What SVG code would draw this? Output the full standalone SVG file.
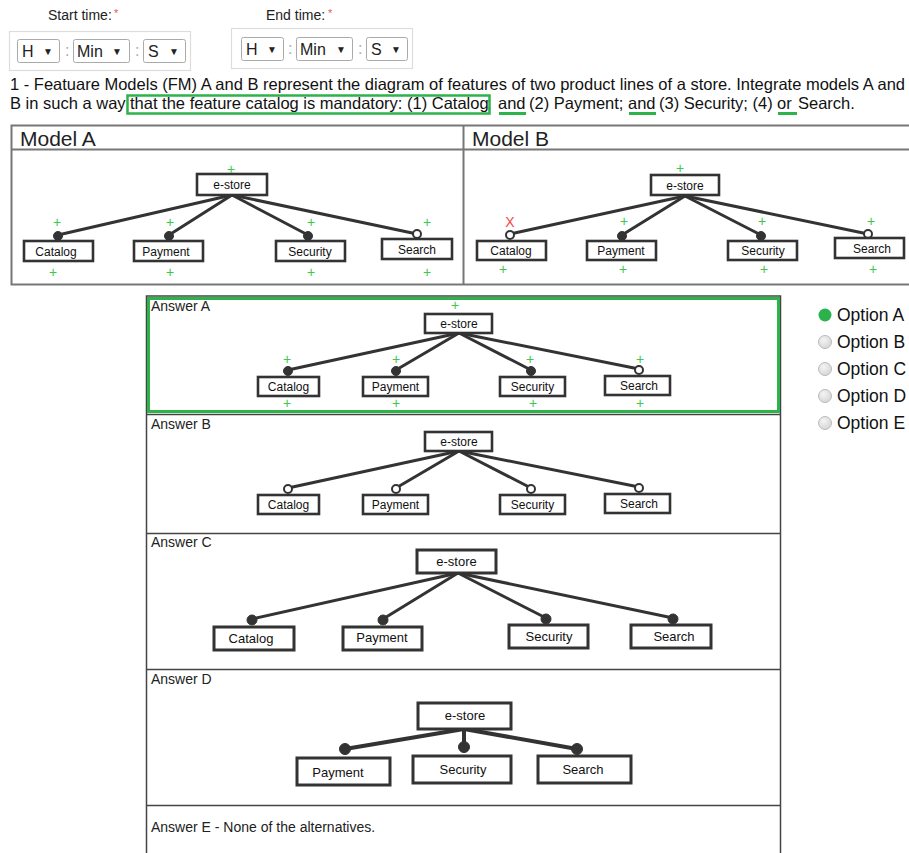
<svg xmlns="http://www.w3.org/2000/svg" width="909" height="853" viewBox="0 0 909 853">
<style>
text{font-family:"Liberation Sans",Arial,sans-serif;fill:#222}
.sel{fill:#fff;stroke:#aaa;stroke-width:1}
.cont{fill:#fff;stroke:#ddd;stroke-width:1.2}
.st{font-size:16px;fill:#222}
.arr{font-size:10px;fill:#222}
.colon{font-size:16px;fill:#aaa}
.q{font-size:16.5px;fill:#111}
.tbl{fill:none;stroke:#777;stroke-width:2}
.ans{fill:none;stroke:#444;stroke-width:1.5}
.box{fill:#fff;stroke:#333;stroke-width:2.6}
.boxL{fill:#fff;stroke:#333;stroke-width:3}
.lbl{font-size:12px;text-anchor:middle;fill:#111}
.lblL{font-size:13px;text-anchor:middle;fill:#111}
.plus{font-size:14px;text-anchor:middle;fill:#3cc84a}
.edge{stroke:#333;stroke-width:3;stroke-linecap:round;fill:none}
.edgeL{stroke:#333;stroke-width:4;stroke-linecap:round;fill:none}
.man{fill:#333;stroke:#333;stroke-width:1}
.opt{fill:#fff;stroke:#333;stroke-width:2}
.opttxt{font-size:17.5px;fill:#111}
</style>
<defs>
<radialGradient id="rg" cx="0.4" cy="0.35" r="0.7">
<stop offset="0" stop-color="#f4f4f4"/><stop offset="1" stop-color="#d4d4d4"/>
</radialGradient>
</defs>
<rect width="909" height="853" fill="#fff"/>

<!-- time pickers -->
<g id="start-time">
<text x="48" y="19.5" font-size="14">Start time:</text>
<text x="114" y="17" font-size="11" style="fill:#e55">*</text>
<rect class="cont" x="9.5" y="31.5" width="181" height="39"/>
<rect class="sel" x="17.5" y="39.5" width="42" height="23" rx="2"/>
<text class="st" x="22" y="56.5">H</text><text class="arr" x="43" y="55">▼</text>
<text class="colon" x="65" y="56">:</text>
<rect class="sel" x="73.5" y="39.5" width="56" height="23" rx="2"/>
<text class="st" x="77" y="56.5">Min</text><text class="arr" x="112" y="55">▼</text>
<text class="colon" x="135" y="56">:</text>
<rect class="sel" x="143.5" y="39.5" width="42" height="23" rx="2"/>
<text class="st" x="148" y="56.5">S</text><text class="arr" x="169" y="55">▼</text>
</g>
<g id="end-time">
<text x="266" y="19.5" font-size="14">End time:</text>
<text x="328" y="17" font-size="11" style="fill:#e55">*</text>
<rect class="cont" x="231.5" y="28.5" width="181" height="40"/>
<rect class="sel" x="241.5" y="37.5" width="42" height="23" rx="2"/>
<text class="st" x="246" y="54.5">H</text><text class="arr" x="267" y="53">▼</text>
<text class="colon" x="288" y="54">:</text>
<rect class="sel" x="296.5" y="37.5" width="56" height="23" rx="2"/>
<text class="st" x="300" y="54.5">Min</text><text class="arr" x="336" y="53">▼</text>
<text class="colon" x="358" y="54">:</text>
<rect class="sel" x="366.5" y="37.5" width="41" height="23" rx="2"/>
<text class="st" x="371" y="54.5">S</text><text class="arr" x="391" y="53">▼</text>
</g>

<!-- question -->
<g id="question">
<text class="q" x="10" y="90" textLength="895" lengthAdjust="spacingAndGlyphs">1 - Featuare Models (FM) A and B represent the diagram of features of two product lines of a store. Integrate models A and</text>
<text class="q" y="109"><tspan x="10">B in such a way</tspan><tspan x="130">that the feature catalog is mandatory: (1) Catalog</tspan><tspan x="487">;</tspan><tspan x="498">and</tspan><tspan x="529">(2) Payment;</tspan><tspan x="628">and</tspan><tspan x="659">(3) Security; (4)</tspan><tspan x="777">or</tspan><tspan x="798">Search.</tspan></text>
<rect x="127.5" y="95.5" width="362" height="18" fill="none" stroke="#2db34a" stroke-width="2.5"/>
<g stroke="#2db34a" stroke-width="3">
<line x1="499" y1="113.5" x2="526" y2="113.5"/>
<line x1="629" y1="113.5" x2="656" y2="113.5"/>
<line x1="778" y1="113.5" x2="797" y2="113.5"/>
</g>
</g>

<!-- models table -->
<g id="models-table">
<rect class="tbl" x="11.5" y="125.5" width="900" height="159"/>
<line class="tbl" x1="11.5" y1="149.5" x2="909" y2="149.5"/>
<line class="tbl" x1="463.5" y1="125.5" x2="463.5" y2="284.5"/>
<text x="20" y="146" font-size="21">Model  A</text>
<text x="472" y="146" font-size="21">Model  B</text>
</g>

<!-- Model A -->
<g id="modelA">
<g class="connectors">
<line class="edge" x1="232" y1="195" x2="58" y2="235"/>
<line class="edge" x1="232" y1="195" x2="169" y2="235"/>
<line class="edge" x1="232" y1="195" x2="308" y2="235"/>
<line class="edge" x1="232" y1="195" x2="417" y2="234"/>
<circle class="man" cx="58" cy="236" r="4.5"/>
<circle class="man" cx="169" cy="236" r="4.5"/>
<circle class="man" cx="308" cy="236" r="4.5"/>
<circle class="opt" cx="417" cy="234" r="4"/>
</g>
<g id="A-estore"><rect class="box" x="197" y="174" width="70" height="21"/><text class="lbl" x="232" y="189">e-store</text><text class="plus" x="231" y="174">+</text></g>
<g id="A-catalog"><rect class="box" x="24" y="241" width="69" height="20"/><text class="lbl" x="56" y="255.5">Catalog</text><text class="plus" x="57" y="227">+</text><text class="plus" x="53" y="277">+</text></g>
<g id="A-payment"><rect class="box" x="134" y="241" width="69" height="20"/><text class="lbl" x="166" y="255.5">Payment</text><text class="plus" x="170" y="227">+</text><text class="plus" x="170" y="277">+</text></g>
<g id="A-security"><rect class="box" x="276" y="241" width="69" height="20"/><text class="lbl" x="310" y="255.5">Security</text><text class="plus" x="311" y="227">+</text><text class="plus" x="311" y="277">+</text></g>
<g id="A-search"><rect class="box" x="382" y="239" width="70" height="20"/><text class="lbl" x="417" y="253.5">Search</text><text class="plus" x="427" y="227">+</text><text class="plus" x="427" y="277">+</text></g>
</g>

<!-- Model B -->
<g id="modelB">
<g class="connectors">
<line class="edge" x1="685" y1="196" x2="510" y2="234"/>
<line class="edge" x1="685" y1="196" x2="622" y2="235"/>
<line class="edge" x1="685" y1="196" x2="761" y2="235"/>
<line class="edge" x1="685" y1="196" x2="868" y2="234"/>
<circle class="opt" cx="510" cy="235" r="4"/>
<circle class="man" cx="622" cy="236" r="4.5"/>
<circle class="man" cx="761" cy="236" r="4.5"/>
<circle class="opt" cx="868" cy="234" r="4"/>
</g>
<g id="B-estore"><rect class="box" x="651" y="175" width="68" height="20"/><text class="lbl" x="685" y="189.5">e-store</text><text class="plus" x="680" y="173">+</text></g>
<g id="B-catalog"><rect class="box" x="477" y="241" width="69" height="19"/><text class="lbl" x="511" y="255">Catalog</text><text x="510" y="227" font-size="14" text-anchor="middle" style="fill:#f04848">X</text><text class="plus" x="503" y="274">+</text></g>
<g id="B-payment"><rect class="box" x="587" y="241" width="69" height="19"/><text class="lbl" x="621" y="255">Payment</text><text class="plus" x="624" y="226">+</text><text class="plus" x="623" y="274">+</text></g>
<g id="B-security"><rect class="box" x="728" y="241" width="69" height="19"/><text class="lbl" x="763" y="255">Security</text><text class="plus" x="762" y="226">+</text><text class="plus" x="764" y="274">+</text></g>
<g id="B-search"><rect class="box" x="835" y="238" width="69" height="20"/><text class="lbl" x="872" y="252.5">Search</text><text class="plus" x="871" y="226">+</text><text class="plus" x="873" y="274">+</text></g>
</g>

<!-- answers table -->
<g id="answers-table">
<rect class="ans" x="146.5" y="296" width="634" height="560"/>
<line class="ans" x1="146.5" y1="414.5" x2="780.5" y2="414.5"/>
<line class="ans" x1="146.5" y1="533.5" x2="780.5" y2="533.5"/>
<line class="ans" x1="146.5" y1="669.5" x2="780.5" y2="669.5"/>
<line class="ans" x1="146.5" y1="805.5" x2="780.5" y2="805.5"/>
<rect x="148.5" y="298.5" width="630" height="113" fill="none" stroke="#2db34a" stroke-width="3"/>
<text x="151" y="311" font-size="14">Answer A</text>
<text x="151" y="429" font-size="14">Answer B</text>
<text x="151" y="547" font-size="14">Answer C</text>
<text x="151" y="684" font-size="14">Answer D</text>
<text x="151" y="832" font-size="14">Answer E - None of the alternatives.</text>
</g>

<!-- Answer A -->
<g id="answerA">
<g class="connectors">
<line class="edge" x1="459" y1="333" x2="288" y2="370"/>
<line class="edge" x1="459" y1="333" x2="396" y2="370"/>
<line class="edge" x1="459" y1="333" x2="531" y2="370"/>
<line class="edge" x1="459" y1="333" x2="639" y2="369"/>
<circle class="man" cx="288" cy="371" r="4.5"/>
<circle class="man" cx="396" cy="371" r="4.5"/>
<circle class="man" cx="531" cy="371" r="4.5"/>
<circle class="opt" cx="639" cy="370" r="4"/>
</g>
<g id="AA-estore"><rect class="box" x="425" y="314" width="67" height="19"/><text class="lbl" x="459" y="328">e-store</text><text class="plus" x="455" y="310">+</text></g>
<g id="AA-catalog"><rect class="box" x="258" y="377" width="61" height="19"/><text class="lbl" x="288.5" y="391">Catalog</text><text class="plus" x="287" y="364">+</text><text class="plus" x="287" y="408">+</text></g>
<g id="AA-payment"><rect class="box" x="363" y="377" width="65" height="19"/><text class="lbl" x="395.5" y="391">Payment</text><text class="plus" x="396" y="364">+</text><text class="plus" x="396" y="408">+</text></g>
<g id="AA-security"><rect class="box" x="500" y="377" width="65" height="19"/><text class="lbl" x="532.5" y="391">Security</text><text class="plus" x="530" y="364">+</text><text class="plus" x="533" y="408">+</text></g>
<g id="AA-search"><rect class="box" x="605" y="376" width="65" height="19"/><text class="lbl" x="639" y="390">Search</text><text class="plus" x="640" y="364">+</text><text class="plus" x="640" y="408">+</text></g>
</g>

<!-- Answer B -->
<g id="answerB">
<g class="connectors">
<line class="edge" x1="459" y1="451" x2="288" y2="488"/>
<line class="edge" x1="459" y1="451" x2="396" y2="488"/>
<line class="edge" x1="459" y1="451" x2="531" y2="488"/>
<line class="edge" x1="459" y1="451" x2="639" y2="487"/>
<circle class="opt" cx="288" cy="489" r="4"/>
<circle class="opt" cx="396" cy="489" r="4"/>
<circle class="opt" cx="531" cy="489" r="4"/>
<circle class="opt" cx="639" cy="488" r="4"/>
</g>
<g id="AB-estore"><rect class="box" x="425" y="432" width="67" height="19"/><text class="lbl" x="459" y="446">e-store</text></g>
<g id="AB-catalog"><rect class="box" x="258" y="495" width="61" height="19"/><text class="lbl" x="288.5" y="509">Catalog</text></g>
<g id="AB-payment"><rect class="box" x="363" y="495" width="65" height="19"/><text class="lbl" x="395.5" y="509">Payment</text></g>
<g id="AB-security"><rect class="box" x="500" y="495" width="65" height="19"/><text class="lbl" x="532.5" y="509">Security</text></g>
<g id="AB-search"><rect class="box" x="605" y="494" width="65" height="19"/><text class="lbl" x="639" y="508">Search</text></g>
</g>

<!-- Answer C -->
<g id="answerC">
<g class="connectors">
<line class="edge" x1="458" y1="573" x2="252" y2="619"/>
<line class="edge" x1="458" y1="573" x2="383" y2="619"/>
<line class="edge" x1="458" y1="573" x2="546" y2="618"/>
<line class="edge" x1="458" y1="573" x2="673" y2="618"/>
<circle class="man" cx="252" cy="620" r="5"/>
<circle class="man" cx="383" cy="620" r="5"/>
<circle class="man" cx="546" cy="619" r="5"/>
<circle class="man" cx="673" cy="619" r="5"/>
</g>
<g id="AC-estore"><rect class="boxL" x="417" y="550" width="79" height="23"/><text class="lblL" x="456.5" y="566">e-store</text></g>
<g id="AC-catalog"><rect class="boxL" x="214" y="627" width="80" height="23"/><text class="lblL" x="251" y="643">Catalog</text></g>
<g id="AC-payment"><rect class="boxL" x="343" y="627" width="79" height="23"/><text class="lblL" x="382" y="642">Payment</text></g>
<g id="AC-security"><rect class="boxL" x="509" y="625" width="79" height="23"/><text class="lblL" x="549" y="641">Security</text></g>
<g id="AC-search"><rect class="boxL" x="631" y="625" width="80" height="23"/><text class="lblL" x="674" y="641">Search</text></g>
</g>

<!-- Answer D -->
<g id="answerD">
<g class="connectors">
<line class="edgeL" x1="464" y1="729" x2="345" y2="749"/>
<line class="edgeL" x1="464" y1="729" x2="464" y2="747"/>
<line class="edgeL" x1="464" y1="729" x2="577" y2="749"/>
<circle class="man" cx="345" cy="749" r="5.5"/>
<circle class="man" cx="464" cy="747" r="5.5"/>
<circle class="man" cx="577" cy="749" r="5.5"/>
</g>
<g id="AD-estore"><rect class="boxL" x="418" y="703" width="93" height="26"/><text class="lblL" x="465" y="720">e-store</text></g>
<g id="AD-payment"><rect class="boxL" x="297" y="758" width="93" height="27"/><text class="lblL" x="338" y="777">Payment</text></g>
<g id="AD-security"><rect class="boxL" x="413" y="756" width="98" height="27"/><text class="lblL" x="463" y="774">Security</text></g>
<g id="AD-search"><rect class="boxL" x="538" y="756" width="93" height="27"/><text class="lblL" x="583" y="774">Search</text></g>
</g>

<!-- options -->
<g id="options">
<circle cx="825" cy="315" r="6.5" fill="#2bb34b"/>
<circle cx="825" cy="342" r="6.5" fill="url(#rg)" stroke="#bbb" stroke-width="1"/>
<circle cx="825" cy="369" r="6.5" fill="url(#rg)" stroke="#bbb" stroke-width="1"/>
<circle cx="825" cy="396" r="6.5" fill="url(#rg)" stroke="#bbb" stroke-width="1"/>
<circle cx="825" cy="423" r="6.5" fill="url(#rg)" stroke="#bbb" stroke-width="1"/>
<text class="opttxt" x="837" y="321">Option A</text>
<text class="opttxt" x="837" y="348">Option B</text>
<text class="opttxt" x="837" y="375">Option C</text>
<text class="opttxt" x="837" y="402">Option D</text>
<text class="opttxt" x="837" y="429">Option E</text>
</g>
</svg>
